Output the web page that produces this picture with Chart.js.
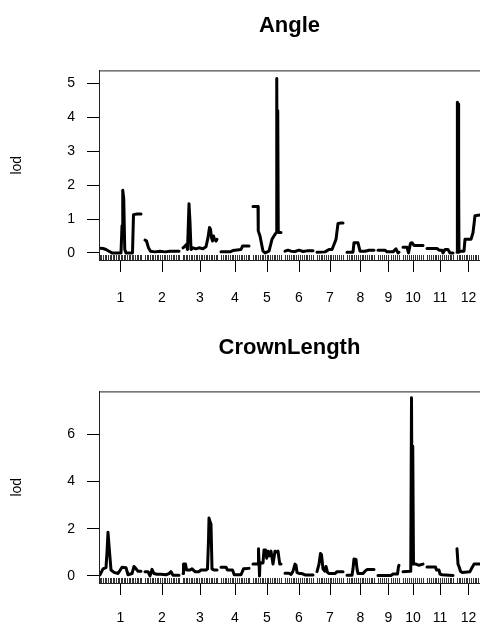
<!DOCTYPE html>
<html>
<head>
<meta charset="utf-8">
<script src="https://cdn.jsdelivr.net/npm/chart.js@4.4.1/dist/chart.umd.min.js"></script>
<style>
  html, body { margin: 0; padding: 0; background: #fff; }
  canvas { display: block; }
</style>
</head>
<body>
<canvas id="angle-chart" width="480" height="312"></canvas>
<canvas id="crown-chart" width="480" height="313"></canvas>
<script>
// Genetic map (cM)
const chromNames = ["1", "2", "3", "4", "5", "6", "7", "8", "9", "10", "11", "12"];
const chromLen = [164, 136, 136, 112, 112, 112, 104, 108, 84, 80, 104, 92];
const chromGap = 16;
const mapStart = 4;

// marker positions (rug), per chromosome
const markerPos = [
    [0, 5, 12, 18, 24, 31, 38, 44, 50, 57, 63, 70, 76, 82, 88, 94, 101, 108, 114, 120, 127, 133, 140, 146, 152, 158, 164],
    [0, 6, 12, 19, 26, 33, 40, 46, 53, 60, 67, 74, 80, 88, 95, 102, 110, 117, 124, 130, 136],
    [0, 5, 11, 17, 24, 30, 37, 44, 50, 56, 63, 70, 76, 83, 90, 96, 103, 110, 116, 123, 130, 136],
    [0, 7, 14, 20, 27, 34, 42, 49, 56, 63, 70, 78, 85, 92, 99, 106, 112],
    [0, 6, 13, 20, 27, 34, 40, 47, 54, 61, 68, 75, 82, 89, 96, 103, 112],
    [0, 8, 15, 22, 30, 37, 45, 52, 59, 67, 74, 82, 89, 97, 104, 112],
    [0, 7, 14, 21, 28, 35, 42, 50, 57, 64, 72, 80, 88, 96, 104],
    [0, 7, 14, 21, 28, 36, 43, 50, 58, 65, 72, 80, 87, 94, 101, 108],
    [0, 8, 16, 24, 33, 41, 50, 58, 66, 75, 84],
    [0, 8, 15, 22, 30, 38, 46, 54, 62, 71, 80],
    [0, 7, 15, 22, 30, 37, 45, 52, 60, 67, 75, 82, 90, 97, 104],
    [0, 6, 13, 20, 27, 34, 41, 48, 55, 62, 70, 77, 85, 92]
];

// Angle: positions (cM within chromosome) and LOD
const anglePos = [
    [0, 12, 24, 36, 48, 84, 88, 91, 95, 99, 104, 130, 134, 148, 164],
    [0, 6, 14, 22, 40, 60, 80, 100, 120, 136],
    [0, 8, 14, 18, 24, 28, 32, 40, 52, 64, 80, 92, 100, 106, 110, 114, 118, 122, 126, 132, 136],
    [0, 20, 36, 48, 80, 86, 112],
    [0, 20, 21, 28, 40, 48, 64, 76, 88, 93, 95, 97, 99, 101, 104, 108, 112],
    [0, 12, 24, 40, 56, 72, 88, 112],
    [0, 32, 48, 60, 68, 76, 84, 96, 104],
    [0, 24, 28, 44, 52, 72, 88, 108],
    [0, 28, 36, 60, 72, 80, 84],
    [0, 16, 22, 30, 36, 44, 60, 80],
    [0, 40, 48, 60, 64, 72, 84, 92, 104],
    [0, 1, 2, 4, 6, 7, 8, 12, 28, 32, 56, 64, 72, 92]
];
const angleLod = [
    [0.14, 0.13, 0.1, 0.05, 0.0, 0.0, 0.8, 1.85, 1.6, 0.1, 0.0, 0.0, 1.13, 1.15, 1.15],
    [0.38, 0.35, 0.15, 0.05, 0.03, 0.05, 0.03, 0.05, 0.05, 0.05],
    [0.15, 0.2, 0.25, 0.1, 1.45, 0.9, 0.1, 0.15, 0.12, 0.15, 0.12, 0.18, 0.45, 0.75, 0.7, 0.45, 0.35, 0.5, 0.4, 0.35, 0.4],
    [0.03, 0.03, 0.03, 0.07, 0.1, 0.2, 0.2],
    [1.37, 1.37, 0.65, 0.5, 0.05, 0.0, 0.05, 0.4, 0.55, 0.6, 5.15, 0.7, 4.2, 0.65, 0.6, 0.6, 0.6],
    [0.05, 0.08, 0.05, 0.04, 0.08, 0.04, 0.06, 0.06],
    [0.02, 0.03, 0.1, 0.1, 0.25, 0.4, 0.87, 0.88, 0.88],
    [0.02, 0.02, 0.3, 0.3, 0.05, 0.05, 0.08, 0.08],
    [0.08, 0.08, 0.03, 0.03, 0.12, 0.0, 0.02],
    [0.17, 0.17, 0.0, 0.28, 0.3, 0.22, 0.22, 0.22],
    [0.13, 0.13, 0.08, 0.08, 0.0, 0.1, 0.1, 0.0, 0.0],
    [0.02, 2.1, 4.45, 2.1, 4.4, 2.1, 0.02, 0.05, 0.05, 0.4, 0.4, 0.6, 1.1, 1.12]
];
const angleTicks = [0, 1, 2, 3, 4, 5];

// CrownLength: positions (cM within chromosome) and LOD
const crownPos = [
    [0, 12, 24, 28, 32, 36, 44, 56, 72, 88, 104, 112, 128, 136, 144, 152, 164],
    [0, 12, 20, 28, 36, 48, 64, 84, 96, 104, 112, 124, 136],
    [0, 2, 10, 14, 28, 36, 48, 64, 72, 92, 98, 102, 104, 108, 112, 116, 124, 136],
    [0, 20, 26, 46, 53, 80, 90, 112],
    [0, 20, 22, 24, 26, 28, 32, 40, 44, 50, 55, 60, 66, 72, 80, 88, 96, 100, 107, 112],
    [0, 16, 24, 32, 40, 44, 48, 56, 68, 80, 112],
    [0, 8, 14, 18, 24, 31, 36, 42, 48, 72, 80, 104],
    [0, 20, 24, 28, 36, 40, 44, 64, 72, 80, 108],
    [0, 52, 60, 78, 82, 84],
    [0, 28, 31, 34, 37, 39, 42, 52, 64, 80],
    [0, 34, 38, 48, 52, 60, 88, 104],
    [0, 4, 8, 14, 20, 52, 60, 68, 92]
];
const crownLod = [
    [0.05, 0.3, 0.35, 1.0, 1.85, 1.3, 0.25, 0.15, 0.1, 0.37, 0.35, 0.05, 0.1, 0.4, 0.3, 0.2, 0.2],
    [0.18, 0.18, 0.0, 0.28, 0.1, 0.07, 0.07, 0.05, 0.1, 0.18, 0.03, 0.03, 0.03],
    [0.1, 0.5, 0.5, 0.25, 0.25, 0.3, 0.18, 0.18, 0.25, 0.25, 0.3, 1.5, 2.45, 2.3, 2.2, 0.3, 0.25, 0.25],
    [0.37, 0.37, 0.25, 0.25, 0.05, 0.05, 0.3, 0.32],
    [0.5, 0.5, 1.15, 0.6, 0.0, 0.55, 0.55, 0.55, 1.1, 1.1, 0.75, 1.05, 0.85, 1.05, 0.5, 1.05, 1.0, 1.05, 0.5, 0.5],
    [0.11, 0.11, 0.06, 0.2, 0.5, 0.45, 0.15, 0.1, 0.1, 0.04, 0.04],
    [0.18, 0.5, 0.95, 0.9, 0.3, 0.2, 0.4, 0.15, 0.1, 0.1, 0.18, 0.18],
    [0.03, 0.03, 0.3, 0.72, 0.7, 0.3, 0.1, 0.1, 0.2, 0.27, 0.27],
    [0.02, 0.02, 0.08, 0.08, 0.4, 0.45],
    [0.18, 0.2, 0.25, 7.55, 0.5, 5.5, 0.5, 0.5, 0.45, 0.5],
    [0.38, 0.38, 0.25, 0.25, 0.08, 0.05, 0.03, 0.02],
    [1.15, 0.5, 0.4, 0.2, 0.15, 0.18, 0.35, 0.5, 0.5]
];
const crownTicks = [0, 2, 4, 6];

// chromosome offsets on the genome-wide axis
const chromStart = [];
let acc = mapStart;
chromLen.forEach(len => {
    chromStart.push(acc);
    acc += len + chromGap;
});
const genomeEnd = acc - chromGap;
const chromMid = chromStart.map((s, i) => s + chromLen[i] / 2);

Chart.defaults.font.family = "'Liberation Sans', Arial, Helvetica, sans-serif";
Chart.defaults.color = "#000";

// box on top/right + marker rug along the bottom
const boxAndRug = {
    id: "boxAndRug",
    afterDraw(chart) {
        const { ctx, chartArea } = chart;
        const xs = chart.scales.x;
        ctx.save();
        ctx.strokeStyle = "#222";
        ctx.lineWidth = 1;
        ctx.strokeRect(chartArea.left + 0.5, chartArea.top + 0.5, chartArea.right - chartArea.left + 1, chartArea.bottom - chartArea.top);
        ctx.strokeStyle = "#333";
        ctx.beginPath();
        markerPos.forEach((list, i) => {
            list.forEach(m => {
                const px = Math.round(xs.getPixelForValue(chromStart[i] + m)) + 0.5;
                ctx.moveTo(px, chartArea.bottom - 5);
                ctx.lineTo(px, chartArea.bottom);
            });
        });
        ctx.stroke();
        ctx.restore();
    }
};

function renderLodPanel(canvasId, title, posList, lodList, yMin, yMax, yTicks, titlePad, axisHeight, xLabelPad) {
    const datasets = posList.map((pos, i) => ({
        data: pos.map((p, j) => ({ x: chromStart[i] + p, y: lodList[i][j] })),
        borderColor: "#000",
        borderWidth: 3,
        borderJoinStyle: "round",
        borderCapStyle: "round",
        pointRadius: 0,
        tension: 0,
        fill: false
    }));

    new Chart(document.getElementById(canvasId), {
        type: "line",
        data: { datasets: datasets },
        options: {
            responsive: false,
            animation: false,
            devicePixelRatio: 1,
            layout: { padding: 0 },
            plugins: {
                legend: { display: false },
                tooltip: { enabled: false },
                title: {
                    display: true,
                    text: title,
                    fullSize: false,
                    color: "#000",
                    font: { size: 22, weight: "bold" },
                    padding: titlePad
                }
            },
            scales: {
                x: {
                    type: "linear",
                    min: 0,
                    max: genomeEnd,
                    afterBuildTicks: axis => { axis.ticks = chromMid.map(v => ({ value: v })); },
                    afterFit: axis => {
                        axis.height = axisHeight;
                        axis.paddingLeft = 0;
                        axis.paddingRight = 0;
                    },
                    ticks: {
                        autoSkip: false,
                        maxRotation: 0,
                        padding: xLabelPad,
                        font: { size: 14 },
                        callback: (v, i) => chromNames[i]
                    },
                    grid: { drawOnChartArea: false, drawTicks: true, tickLength: 12, color: "#000" },
                    border: { display: true, color: "#222" }
                },
                y: {
                    min: yMin,
                    max: yMax,
                    afterBuildTicks: axis => { axis.ticks = yTicks.map(v => ({ value: v })); },
                    afterFit: axis => {
                        axis.width = 99;
                        axis.paddingTop = 0;
                        axis.paddingBottom = 0;
                    },
                    ticks: { padding: 12, font: { size: 14 } },
                    grid: { drawOnChartArea: false, drawTicks: true, tickLength: 12, color: "#000" },
                    border: { display: true, color: "#222" },
                    title: { display: true, text: "lod", font: { size: 14 }, padding: { top: 9, bottom: 0 } }
                }
            }
        },
        plugins: [boxAndRug]
    });
}

renderLodPanel("angle-chart", "Angle", anglePos, angleLod, -0.21, 5.39, angleTicks, { top: 13, bottom: 31 }, 52, 18);
renderLodPanel("crown-chart", "CrownLength", crownPos, crownLod, -0.30, 7.82, crownTicks, { top: 23, bottom: 30 }, 42, 15);
</script>
</body>
</html>
